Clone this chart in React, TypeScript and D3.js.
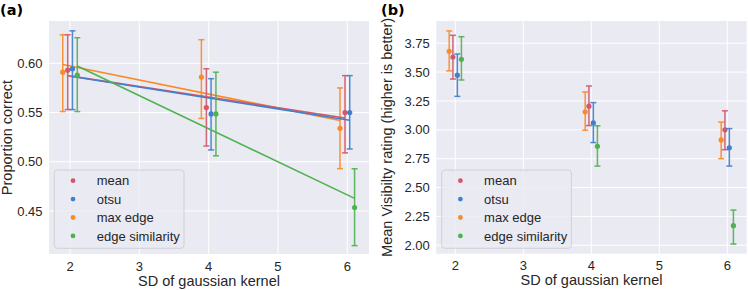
import React from "react";
import * as d3 from "d3";

// kernel SDs and series
const kernels = [2, 4, 6];
const seriesNames = ["mean", "otsu", "max edge", "edge similarity"];
const colors = ["#d3586a", "#3f81cf", "#fb8a26", "#4db24f"];

// panel (a): proportion correct, [mean, lo, hi] per kernel
const propMean = [
  [0.593, 0.555, 0.55],
  [0.5945, 0.5486, 0.55],
  [0.591, 0.586, 0.534],
  [0.588, 0.5486, 0.4535],
];
const propLo = [
  [0.553, 0.516, 0.509],
  [0.553, 0.512, 0.513],
  [0.551, 0.544, 0.493],
  [0.551, 0.506, 0.4148],
];
const propHi = [
  [0.629, 0.5945, 0.5875],
  [0.633, 0.5844, 0.5875],
  [0.629, 0.624, 0.575],
  [0.626, 0.591, 0.4929],
];
const propOffsets = [-0.033, 0.035, -0.105, 0.105];
const propTicks = [0.45, 0.5, 0.55, 0.6];

// panel (b): mean visibility rating
const visMean = [
  [3.631, 3.205, 3.0],
  [3.474, 3.06, 2.845],
  [3.681, 3.156, 2.913],
  [3.611, 2.857, 2.17],
];
const visLo = [
  [3.44, 3.037, 2.828],
  [3.29, 2.89, 2.686],
  [3.511, 2.997, 2.75],
  [3.432, 2.686, 2.011],
];
const visHi = [
  [3.819, 3.38, 3.165],
  [3.657, 3.236, 3.011],
  [3.857, 3.328, 3.067],
  [3.807, 3.035, 2.305],
];
const visOffsets = [-0.035, 0.03, -0.09, 0.09];
const visTicks = [2.0, 2.25, 2.5, 2.75, 3.0, 3.25, 3.5, 3.75];
const xTicks = [2, 3, 4, 5, 6];

const FONT = "'Liberation Sans', Arial, sans-serif";
const TXT = "#262626";

type PanelProps = {
  left: number;
  right: number;
  top: number;
  bottom: number;
  xDomain: [number, number];
  yDomain: [number, number];
  yTicks: number[];
  yFormat: (v: number) => string;
  means: number[][];
  los: number[][];
  his: number[][];
  offsets: number[];
  fit: boolean;
  letter: string;
  letterX: number;
  yLabel: string;
  yLabelX: number;
  legendX: number;
};

function Panel(p: PanelProps) {
  const x = d3.scaleLinear().domain(p.xDomain).range([p.left, p.right]);
  const y = d3.scaleLinear().domain(p.yDomain).range([p.bottom, p.top]);
  const line = d3
    .line<[number, number]>()
    .x((d) => x(d[0]))
    .y((d) => y(d[1]));

  // least squares line through the series' points
  const fitLine = (si: number): [number, number][] => {
    const xs = kernels.map((k) => k + p.offsets[si]);
    const ys = p.means[si];
    const mx = d3.mean(xs)!;
    const my = d3.mean(ys)!;
    const slope =
      d3.sum(xs, (v, i) => (v - mx) * (ys[i] - my)) /
      d3.sum(xs, (v) => (v - mx) ** 2);
    const x0 = xs[0];
    const x1 = xs[xs.length - 1];
    return [
      [x0, my + slope * (x0 - mx)],
      [x1, my + slope * (x1 - mx)],
    ];
  };

  const drawOrder = [2, 0, 1, 3];
  const lgTop = 170;
  const lgRow = 18.4;

  return (
    <g>
      <rect
        x={p.left}
        y={p.top}
        width={p.right - p.left}
        height={p.bottom - p.top}
        fill="#eaeaf2"
      />
      {xTicks.map((t) => (
        <line
          key={"gx" + t}
          x1={x(t)}
          x2={x(t)}
          y1={p.top}
          y2={p.bottom}
          stroke="#fff"
          strokeWidth={1}
        />
      ))}
      {p.yTicks.map((t) => (
        <line
          key={"gy" + t}
          x1={p.left}
          x2={p.right}
          y1={y(t)}
          y2={y(t)}
          stroke="#fff"
          strokeWidth={1}
        />
      ))}
      {xTicks.map((t) => (
        <text
          key={"tx" + t}
          x={x(t)}
          y={p.bottom + 16.5}
          textAnchor="middle"
          fontSize={13}
          fill={TXT}
          fontFamily={FONT}
        >
          {t}
        </text>
      ))}
      {p.yTicks.map((t) => (
        <text
          key={"ty" + t}
          x={p.left - 6.5}
          y={y(t) + 4.6}
          textAnchor="end"
          fontSize={13}
          fill={TXT}
          fontFamily={FONT}
        >
          {p.yFormat(t)}
        </text>
      ))}
      {drawOrder.map((si) => (
        <g key={"s" + si} stroke={colors[si]} fill={colors[si]}>
          {kernels.map((k, ki) => {
            const cx = x(k + p.offsets[si]);
            return (
              <g key={ki}>
                <line
                  x1={cx}
                  x2={cx}
                  y1={y(p.los[si][ki])}
                  y2={y(p.his[si][ki])}
                  strokeWidth={1.5}
                  opacity={0.9}
                />
                <line
                  x1={cx - 3}
                  x2={cx + 3}
                  y1={y(p.los[si][ki])}
                  y2={y(p.los[si][ki])}
                  strokeWidth={1.5}
                  opacity={0.9}
                />
                <line
                  x1={cx - 3}
                  x2={cx + 3}
                  y1={y(p.his[si][ki])}
                  y2={y(p.his[si][ki])}
                  strokeWidth={1.5}
                  opacity={0.9}
                />
                <circle cx={cx} cy={y(p.means[si][ki])} r={2.6} stroke="none" />
              </g>
            );
          })}
          {p.fit && (
            <path d={line(fitLine(si)) || ""} fill="none" strokeWidth={1.6} />
          )}
        </g>
      ))}
      <rect
        x={p.legendX}
        y={lgTop}
        width={129.7}
        height={78.3}
        rx={3}
        fill="#eaeaf2"
        fillOpacity={0.8}
        stroke="#cdcdd4"
        strokeWidth={0.9}
      />
      {seriesNames.map((n, i) => (
        <g key={n}>
          <circle
            cx={p.legendX + 18.7}
            cy={lgTop + 10.7 + i * lgRow}
            r={2.4}
            fill={colors[i]}
          />
          <text
            x={p.legendX + 42.4}
            y={lgTop + 15.3 + i * lgRow}
            fontSize={13}
            fill={TXT}
            fontFamily={FONT}
          >
            {n}
          </text>
        </g>
      ))}
      <text
        x={(p.left + p.right) / 2}
        y={p.bottom + 31.5}
        textAnchor="middle"
        fontSize={14.5}
        fill={TXT}
        fontFamily={FONT}
      >
        SD of gaussian kernel
      </text>
      <text
        transform={`translate(${p.yLabelX},${(p.top + p.bottom) / 2}) rotate(-90)`}
        textAnchor="middle"
        fontSize={14.5}
        fill={TXT}
        fontFamily={FONT}
      >
        {p.yLabel}
      </text>
      <text
        x={p.letterX}
        y={15}
        fontSize={14.5}
        fontWeight="bold"
        fill="#000"
        fontFamily="'DejaVu Sans', sans-serif"
      >
        {p.letter}
      </text>
    </g>
  );
}

export default function App() {
  return (
    <svg
      width={748}
      height={290}
      style={{ position: "absolute", left: 0, top: 0, background: "#fff" }}
    >
      <Panel
        left={49}
        right={369}
        top={21}
        bottom={254}
        xDomain={[1.697, 6.313]}
        yDomain={[0.4063, 0.643]}
        yTicks={propTicks}
        yFormat={d3.format(".2f")}
        means={propMean}
        los={propLo}
        his={propHi}
        offsets={propOffsets}
        fit={true}
        letter="(a)"
        letterX={0}
        yLabel="Proportion correct"
        yLabelX={11.5}
        legendX={54.3}
      />
      <Panel
        left={436.3}
        right={746.7}
        top={21}
        bottom={253.7}
        xDomain={[1.7206, 6.2853]}
        yDomain={[1.927, 3.943]}
        yTicks={visTicks}
        yFormat={d3.format(".2f")}
        means={visMean}
        los={visLo}
        his={visHi}
        offsets={visOffsets}
        fit={false}
        letter="(b)"
        letterX={381}
        yLabel="Mean Visibilty rating (higher is better)"
        yLabelX={392}
        legendX={441.7}
      />
    </svg>
  );
}
